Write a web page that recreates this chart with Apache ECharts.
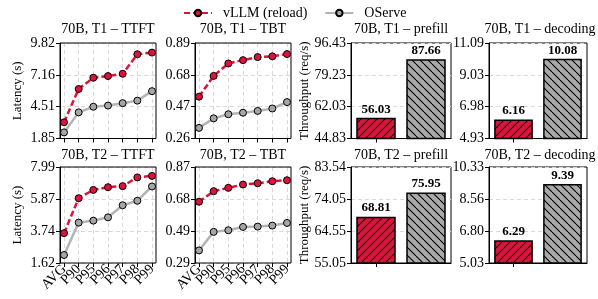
<!DOCTYPE html>
<html><head><meta charset="utf-8">
<script src="https://cdn.jsdelivr.net/npm/echarts@6/dist/echarts.min.js"></script>
<style>html,body{margin:0;padding:0;background:#fff}#c{width:598px;height:299px}</style>
</head><body><div id="c"></div>
<script>
// ---------------- data ----------------
const categories = ['AVG', 'P90', 'P95', 'P96', 'P97', 'P98', 'P99'];
const seriesNames = ['vLLM (reload)', 'OServe'];

const t1TtftVllm   = [3.20, 5.98, 6.92, 7.06, 7.25, 8.88, 9.02];
const t1TtftOserve = [2.36, 4.03, 4.50, 4.60, 4.80, 5.01, 5.80];
const t1TbtVllm    = [0.536, 0.673, 0.755, 0.777, 0.797, 0.802, 0.817];
const t1TbtOserve  = [0.330, 0.393, 0.420, 0.430, 0.442, 0.458, 0.500];
const t2TtftVllm   = [3.60, 5.92, 6.47, 6.65, 6.72, 7.30, 7.40];
const t2TtftOserve = [2.15, 4.30, 4.43, 4.65, 5.45, 5.75, 6.70];
const t2TbtVllm    = [0.660, 0.724, 0.744, 0.764, 0.772, 0.784, 0.790];
const t2TbtOserve  = [0.366, 0.478, 0.488, 0.508, 0.510, 0.516, 0.532];

const barCategories = ['vLLM (reload)', 'OServe'];
const t1Prefill  = [56.03, 87.66];
const t1Decoding = [6.16, 10.08];
const t2Prefill  = [68.81, 75.95];
const t2Decoding = [6.29, 9.39];

// y tick labels per panel
const t1TtftTicks     = ['1.85', '4.51', '7.16', '9.82'];
const t1TbtTicks      = ['0.26', '0.47', '0.68', '0.89'];
const t1PrefillTicks  = ['44.83', '62.03', '79.23', '96.43'];
const t1DecodingTicks = ['4.93', '6.98', '9.03', '11.09'];
const t2TtftTicks     = ['1.62', '3.74', '5.87', '7.99'];
const t2TbtTicks      = ['0.29', '0.49', '0.68', '0.87'];
const t2PrefillTicks  = ['55.05', '64.55', '74.05', '83.54'];
const t2DecodingTicks = ['5.03', '6.80', '8.56', '10.33'];

const panelTitles = [
  '70B, T1 \u2013 TTFT', '70B, T1 \u2013 TBT', '70B, T1 \u2013 prefill', '70B, T1 \u2013 decoding',
  '70B, T2 \u2013 TTFT', '70B, T2 \u2013 TBT', '70B, T2 \u2013 prefill', '70B, T2 \u2013 decoding'
];

// ---------------- style ----------------
const FONT = 'Liberation Serif';
const RED = '#DC143C';
const GRAY_LINE = '#b4b4b4';
const GRAY_MARK = '#a6a6a6';
const GRAY_BAR = '#a9a9a9';

const lefts  = [60, 195, 351, 489];
const widths = [96, 96, 100, 98];
const tops   = [43, 167];
const heights = [95.5, 96];
const PAD = 4; // inner padding of line panels (points inset from the frame)

function hatch(bg, dir) {
  const s = 8;
  const c = document.createElement('canvas');
  c.width = s; c.height = s;
  const x = c.getContext('2d');
  x.fillStyle = bg; x.fillRect(0, 0, s, s);
  x.strokeStyle = '#000'; x.lineWidth = 1.1;
  for (const k of [-s, 0, s]) {
    x.beginPath();
    if (dir > 0) { x.moveTo(k, s); x.lineTo(k + s, 0); }
    else { x.moveTo(k, 0); x.lineTo(k + s, s); }
    x.stroke();
  }
  return c;
}
const redPattern = { image: hatch(RED, 1), repeat: 'repeat' };
const grayPattern = { image: hatch(GRAY_BAR, -1), repeat: 'repeat' };

const grids = [], xAxes = [], yAxes = [], series = [], graphics = [];
const splitStyle = { color: '#d9d9d9', type: [4, 3], width: 1 };

function tickVals(labels) {
  const mn = parseFloat(labels[0]), mx = parseFloat(labels[labels.length - 1]);
  const n = labels.length - 1;
  const vals = [];
  for (let i = 0; i <= n; i++) vals.push(mn + (mx - mn) * i / n);
  vals[0] = mn; vals[n] = mx;
  return { mn, mx, vals };
}

function visibleY(gi, labels, name, gap) {
  const t = tickVals(labels);
  return {
    type: 'value', gridIndex: gi, min: t.mn, max: t.mx,
    name: name || '', nameLocation: 'middle', nameGap: gap,
    nameTextStyle: { fontFamily: FONT, fontSize: 13, color: '#000' },
    axisLine: { show: true, lineStyle: { color: '#000', width: 1 } },
    axisTick: { show: true, length: 4, lineStyle: { color: '#000' }, customValues: t.vals },
    axisLabel: {
      customValues: t.vals, margin: 5, color: '#000', fontFamily: FONT, fontSize: 14,
      showMinLabel: true, showMaxLabel: true,
      formatter: function (v) {
        let best = 0, bd = Infinity;
        t.vals.forEach((tv, i) => { const d = Math.abs(tv - v); if (d < bd) { bd = d; best = i; } });
        return labels[best];
      }
    },
    splitLine: { show: true, lineStyle: splitStyle }
  };
}

function addLinePanel(row, col, vllm, oserve, ticks, yname, showX) {
  // frame grid: border + visible y axis with full-width horizontal grid lines
  const gFrame = grids.length;
  grids.push({ left: lefts[col], top: tops[row], width: widths[col], height: heights[row],
               show: true, borderColor: '#000', borderWidth: 1, containLabel: false, z: 2 });
  const xFrame = xAxes.length;
  xAxes.push({ type: 'value', gridIndex: gFrame, min: 0, max: 1, show: false });
  yAxes.push(visibleY(gFrame, ticks, yname, 36));
  // inner grid: category axis with points inset from the frame
  const gIn = grids.length;
  grids.push({ left: lefts[col] + PAD, top: tops[row], width: widths[col] - 2 * PAD, height: heights[row],
               show: false, containLabel: false });
  const xi = xAxes.length;
  xAxes.push({
    type: 'category', gridIndex: gIn, data: categories, boundaryGap: false,
    axisLine: { show: false },
    axisTick: { show: true, length: 4, interval: 0, lineStyle: { color: '#000' } },
    axisLabel: {
      show: showX, rotate: 45, margin: 4, color: '#000', interval: 0,
      fontFamily: FONT, fontSize: 14, hideOverlap: false
    },
    splitLine: { show: true, interval: 0, lineStyle: splitStyle }
  });
  const t = tickVals(ticks);
  const yi = yAxes.length;
  yAxes.push({ type: 'value', gridIndex: gIn, min: t.mn, max: t.mx, show: false, splitLine: { show: false } });
  series.push({
    type: 'line', name: seriesNames[1], xAxisIndex: xi, yAxisIndex: yi,
    data: oserve, symbol: 'circle', symbolSize: 7,
    lineStyle: { color: GRAY_LINE, width: 2.5 },
    itemStyle: { color: GRAY_MARK, borderColor: '#000', borderWidth: 1 }, z: 3
  });
  series.push({
    type: 'line', name: seriesNames[0], xAxisIndex: xi, yAxisIndex: yi,
    data: vllm, symbol: 'circle', symbolSize: 7,
    lineStyle: { color: RED, width: 2.5, type: [6, 3] },
    itemStyle: { color: RED, borderColor: '#000', borderWidth: 1 }, z: 4
  });
}

function addBarPanel(row, col, vals, ticks, yname) {
  const g = grids.length;
  grids.push({ left: lefts[col], top: tops[row], width: widths[col], height: heights[row],
               show: true, borderColor: '#000', borderWidth: 1, containLabel: false });
  const xi = xAxes.length;
  xAxes.push({
    type: 'category', gridIndex: g, data: barCategories,
    axisLine: { show: true, lineStyle: { color: '#000', width: 1 } },
    axisTick: { show: true, length: 4, alignWithLabel: true, lineStyle: { color: '#000' } },
    axisLabel: { show: false },
    splitLine: { show: false }
  });
  const yi = yAxes.length;
  yAxes.push(visibleY(g, ticks, yname, 39));
  const pats = [redPattern, grayPattern];
  series.push({
    type: 'bar', name: 'bars' + g, xAxisIndex: xi, yAxisIndex: yi,
    barWidth: '79%',
    data: vals.map((v, i) => ({ value: v, itemStyle: { color: pats[i], borderColor: '#000', borderWidth: 1.5 } })),
    label: { show: true, position: 'top', distance: 2, color: '#000', fontFamily: FONT,
             fontWeight: 'bold', fontSize: 13, formatter: p => p.value.toFixed(2) },
    z: 3
  });
}

addLinePanel(0, 0, t1TtftVllm, t1TtftOserve, t1TtftTicks, 'Latency (s)', false);
addLinePanel(0, 1, t1TbtVllm, t1TbtOserve, t1TbtTicks, '', false);
addBarPanel(0, 2, t1Prefill, t1PrefillTicks, 'Throughput (req/s)');
addBarPanel(0, 3, t1Decoding, t1DecodingTicks, '');
addLinePanel(1, 0, t2TtftVllm, t2TtftOserve, t2TtftTicks, 'Latency (s)', true);
addLinePanel(1, 1, t2TbtVllm, t2TbtOserve, t2TbtTicks, '', true);
addBarPanel(1, 2, t2Prefill, t2PrefillTicks, 'Throughput (req/s)');
addBarPanel(1, 3, t2Decoding, t2DecodingTicks, '');

const titleCenters = [108, 243, 401, 540];
const titleY = [29, 155.5];
panelTitles.forEach((t, i) => {
  const row = Math.floor(i / 4), col = i % 4;
  graphics.push({
    type: 'text', x: titleCenters[col], y: titleY[row], silent: true,
    style: { text: t, fill: '#000', fontFamily: FONT, fontSize: 14,
             align: 'center', verticalAlign: 'middle' }
  });
});

const chart = echarts.init(document.getElementById('c'), null, { renderer: 'canvas' });
chart.setOption({
  animation: false,
  backgroundColor: '#fff',
  legend: {
    data: seriesNames, left: 183, top: 6, padding: 0, itemWidth: 28, itemHeight: 8, itemGap: 17,
    textStyle: { fontFamily: FONT, fontSize: 14, color: '#000', padding: [0, 0, 0, 6] }
  },
  grid: grids, xAxis: xAxes, yAxis: yAxes, series: series, graphic: graphics
});
</script></body></html>
